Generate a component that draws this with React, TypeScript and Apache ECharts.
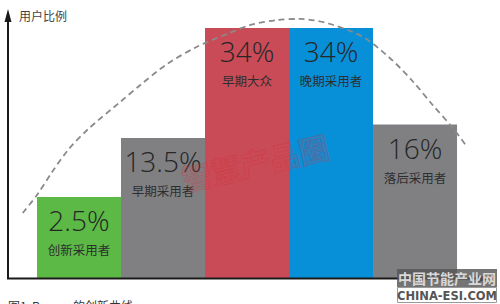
import { useEffect, useRef } from "react";
import * as echarts from "echarts";

// Adopter groups and their share of users
const categories = ["创新采用者", "早期采用者", "早期大众", "晚期采用者", "落后采用者"];
const shares = [2.5, 13.5, 34, 34, 16];
const barColors = ["#5cb946", "#808083", "#c94b57", "#078fd8", "#808083"];

// Hand-traced adoption curve: x in bar slots (slot i spans [i, i+1]), y in percent
const curveX = [-0.17, 0, 0.18, 0.37, 0.61, 0.99, 1.23, 1.55, 1.9, 2.26, 2.54, 2.86, 3.13, 3.49, 3.88, 4.2, 4.48, 4.71, 4.95, 5.12];
const curveY = [-0.49, 2.87, 7.16, 11.26, 15.17, 20.2, 23.37, 27.29, 30.46, 32.88, 34.56, 35.49, 35.68, 34.74, 32.32, 28.41, 23.93, 19.65, 15.36, 11.82];

// Visible axis window
const X_MIN = -0.345;
const X_MAX = 5.333;
const Y_MIN = -12.6;
const Y_MAX = 37.35;

export default function App() {
  const ref = useRef<HTMLDivElement>(null);

  useEffect(() => {
    if (!ref.current) return;
    const chart = echarts.init(ref.current, null, { renderer: "svg" });
    const pctFont = "'Open Sans', 'Noto Sans', sans-serif";
    const cjkFont = "'Noto Sans CJK SC', 'Noto Sans', sans-serif";

    chart.setOption({
      animation: false,
      backgroundColor: "#ffffff",
      grid: { left: 8, right: 15, top: 10, bottom: 26 },
      xAxis: { type: "value", min: X_MIN, max: X_MAX, show: false },
      yAxis: { type: "value", min: Y_MIN, max: Y_MAX, show: false },
      series: [
        {
          type: "custom",
          z: 2,
          data: shares.map((v, i) => [i, v]),
          renderItem: (params: any, api: any) => {
            const i = api.value(0);
            const v = api.value(1);
            const tl = api.coord([i, v]);
            const br = api.coord([i + 1, Y_MIN]);
            const cx = (tl[0] + br[0]) / 2;
            return {
              type: "group",
              children: [
                {
                  type: "rect",
                  shape: { x: tl[0], y: tl[1], width: br[0] - tl[0], height: br[1] - tl[1] },
                  style: { fill: barColors[i] },
                },
                {
                  type: "text",
                  x: cx,
                  y: tl[1] + 23,
                  style: {
                    text: v + "%",
                    fontSize: 28,
                    fontWeight: 300,
                    fontFamily: pctFont,
                    fill: "#262626",
                    align: "center",
                    verticalAlign: "middle",
                  },
                },
                {
                  type: "text",
                  x: cx,
                  y: tl[1] + 53,
                  style: {
                    text: categories[i],
                    fontSize: 12.5,
                    fontFamily: cjkFont,
                    fill: "#2e2e2e",
                    align: "center",
                    verticalAlign: "middle",
                  },
                },
              ],
            };
          },
        },
        {
          type: "line",
          z: 3,
          smooth: 0.3,
          symbol: "none",
          data: curveX.map((x, i) => [x, curveY[i]]),
          lineStyle: { type: [6, 4], color: "#8a8a8a", width: 1.8 },
        },
      ],
      graphic: [
        // y axis with arrow
        { type: "line", shape: { x1: 8, y1: 18, x2: 8, y2: 279 }, style: { stroke: "#1a1a1a", lineWidth: 2 }, z: 10 },
        { type: "polygon", shape: { points: [[8, 9], [4.5, 22], [11.5, 22]] }, style: { fill: "#1a1a1a" }, z: 10 },
        // x axis with arrow
        { type: "line", shape: { x1: 7, y1: 278.5, x2: 482, y2: 278.5 }, style: { stroke: "#1a1a1a", lineWidth: 2 }, z: 10 },
        { type: "polygon", shape: { points: [[490, 278.5], [478, 275], [478, 282]] }, style: { fill: "#1a1a1a" }, z: 10 },
        {
          type: "text",
          x: 19,
          y: 15,
          style: { text: "用户比例", fontSize: 12, fontFamily: cjkFont, fill: "#444444", verticalAlign: "middle" },
          z: 10,
        },
        {
          type: "text",
          x: 8,
          y: 299,
          style: { text: "图1  Rogers 的创新曲线", fontSize: 12, fontFamily: cjkFont, fill: "#333333", verticalAlign: "top" },
          z: 10,
        },
        // stamp
        {
          type: "text",
          x: 255,
          y: 162,
          rotation: 0.23,
          style: {
            text: "智慧产品圈",
            fontSize: 30,
            fontWeight: "bold",
            fontFamily: cjkFont,
            fill: "rgba(225,70,80,0.18)",
            stroke: "rgba(200,40,50,0.25)",
            lineWidth: 1,
            align: "center",
            verticalAlign: "middle",
          },
          z: 11,
        },
        // site badge
        { type: "rect", shape: { x: 397, y: 269, width: 100, height: 18 }, style: { fill: "rgba(85,85,85,0.82)" }, z: 12 },
        {
          type: "text",
          x: 447,
          y: 278,
          style: { text: "中国节能产业网", fontSize: 14, fontWeight: "bold", fontFamily: cjkFont, fill: "#d8d8d8", align: "center", verticalAlign: "middle" },
          z: 13,
        },
        { type: "rect", shape: { x: 397.5, y: 287.5, width: 99, height: 15 }, style: { fill: "#ffffff", stroke: "#9a9a9a", lineWidth: 1 }, z: 12 },
        {
          type: "text",
          x: 447,
          y: 295.5,
          style: { text: "CHINA-ESI.COM", fontSize: 11.5, fontWeight: "bold", fontFamily: "'DejaVu Sans', sans-serif", fill: "#555555", align: "center", verticalAlign: "middle" },
          z: 13,
        },
      ],
    });

    return () => chart.dispose();
  }, []);

  return <div ref={ref} style={{ width: 500, height: 304, position: "absolute", left: 0, top: 0 }} />;
}
